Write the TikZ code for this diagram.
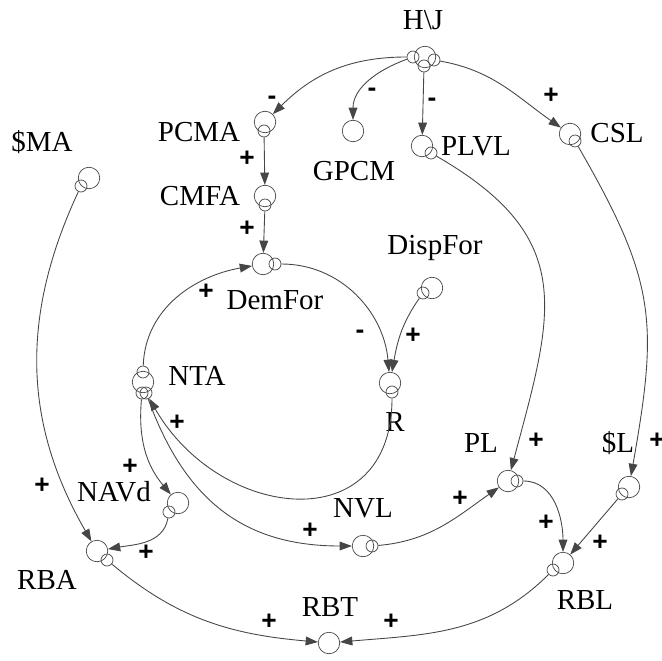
\documentclass[tikz,border=0pt]{standalone}
\usepackage{fontspec}
\setmainfont{Liberation Serif}
\newfontfamily\signfont{Liberation Sans}
\usetikzlibrary{arrows.meta}
\definecolor{linegray}{RGB}{70,70,70}

\begin{document}
\begin{tikzpicture}[x=0.02cm,y=0.02cm,
    var/.style={draw=linegray, circle, line width=0.4pt, minimum size=0.43cm, inner sep=0pt},
    port/.style={draw=linegray, circle, line width=0.4pt, minimum size=0.24cm, inner sep=0pt},
    lbl/.style={font=\fontsize{16.5}{18}\selectfont, inner sep=0pt},
    sgn/.style={font=\signfont\bfseries\fontsize{15}{17}\selectfont, inner sep=0pt},
    link/.style={draw=linegray, line width=0.5pt, -{Triangle[length=7pt,width=5pt]}}]
\useasboundingbox (0,0) rectangle (662,660);

% variables
\node[var] (hj) at (425,603) {};
\node[var] (pcma) at (265,538) {};
\node[var] (gpcm) at (353,529) {};
\node[var] (plvl) at (422,514) {};
\node[var] (csl) at (570,526) {};
\node[var] (sma) at (89,482) {};
\node[var] (cmfa) at (265,464) {};
\node[var] (demfor) at (263,396) {};
\node[var] (dispfor) at (432,372) {};
\node[var] (nta) at (143,278) {};
\node[var] (r) at (390,277) {};
\node[var] (pl) at (508,179) {};
\node[var] (sl) at (629,173) {};
\node[var] (navd) at (178,157) {};
\node[var] (nvl) at (363,114) {};
\node[var] (rba) at (97,109) {};
\node[var] (rbl) at (563,97) {};
\node[var] (rbt) at (329,17) {};

% ports
\node[port] (hjL) at (413,603) {};
\node[port] (hjB) at (424,594) {};
\node[port] (hjR) at (434,600) {};
\node[port] (pcmaP) at (264,529) {};
\node[port] (plvlP) at (431,507) {};
\node[port] (cslP) at (575,519) {};
\node[port] (smaP) at (81,474) {};
\node[port] (cmfaP) at (265,455) {};
\node[port] (demforP) at (275,396) {};
\node[port] (dispforP) at (423,367) {};
\node[port] (ntaT) at (143,288) {};
\node[port] (ntaB) at (142,267) {};
\node[port] (ntaB2) at (146,267) {};
\node[port] (rP) at (392,268) {};
\node[port] (plP) at (517,179) {};
\node[port] (slP) at (622,166) {};
\node[port] (navdP) at (169,148) {};
\node[port] (nvlP) at (372,114) {};
\node[port] (rbaP) at (107,100) {};
\node[port] (rblP) at (553,90) {};

% names
\node[lbl] (hjT) at (423,640) {H\textbackslash J};
\node[lbl] (pcmaT) at (199,528) {PCMA};
\node[lbl] (gpcmT) at (354,489) {GPCM};
\node[lbl] (plvlT) at (476,514) {PLVL};
\node[lbl] (cslT) at (617,527) {CSL};
\node[lbl] (smaT) at (42,518) {\$MA};
\node[lbl] (cmfaT) at (200,464) {CMFA};
\node[lbl] (demforT) at (275,360) {DemFor};
\node[lbl] (dispforT) at (435,412) {DispFor};
\node[lbl] (ntaT2) at (197,284) {NTA};
\node[lbl] (rT) at (395,238) {R};
\node[lbl] (plT) at (481,217) {PL};
\node[lbl] (slT) at (618,217) {\$L};
\node[lbl] (navdT) at (114,168) {NAVd};
\node[lbl] (nvlT) at (363,152) {NVL};
\node[lbl] (rbaT) at (47,80) {RBA};
\node[lbl] (rblT) at (585,60) {RBL};
\node[lbl] (rbtT) at (330,53) {RBT};

% links
\draw[link] (hjL) to[out=180,in=45] (pcma);
\draw[link] (hjL) to[out=200,in=90] (gpcm);
\draw[link] (hjB) -- (plvl);
\draw[link] (hjR) to[out=-10,in=145] (csl);
\draw[link] (pcmaP) -- (cmfa);
\draw[link] (cmfaP) -- (demfor);
\draw[link] (ntaT) to[out=88,in=190] (demfor);
\draw[link] (demforP) to[out=0,in=95] (r);
\draw[link] (dispforP) to[out=235,in=80] (r);
\draw[link] (rP) to[out=-90,in=-60,looseness=1.5] (ntaB2);
\draw[link] (ntaB) to[out=-95,in=130] (navd);
\draw[link] (ntaB2) to[out=-70,in=180,looseness=1.1] (nvl);
\draw[link] (nvlP) to[out=5,in=215] (pl);
\draw[link] (plvlP) to[out=-30,in=75,looseness=1.3] (pl);
\draw[link] (cslP) to[out=-60,in=80,looseness=1.2] (sl);
\draw[link] (plP) to[out=0,in=90] (rbl);
\draw[link] (slP) -- (rbl);
\draw[link] (smaP) to[out=-115,in=120] (rba);
\draw[link] (navdP) to[out=-100,in=10] (rba);
\draw[link] (rbaP) to[out=-40,in=175] (rbt);
\draw[link] (rblP) to[out=-135,in=5] (rbt);

% polarities
\node[sgn] (s1) at (272,560) {-};
\node[sgn] (s2) at (372,568) {-};
\node[sgn] (s3) at (432,558) {-};
\node[sgn] (s4) at (551,564) {+};
\node[sgn] (s5) at (247,501) {+};
\node[sgn] (s6) at (247,431) {+};
\node[sgn] (s7) at (206,368) {+};
\node[sgn] (s8) at (360,326) {-};
\node[sgn] (s9) at (413,324) {+};
\node[sgn] (s10) at (177,237) {+};
\node[sgn] (s11) at (130,193) {+};
\node[sgn] (s12) at (310,129) {+};
\node[sgn] (s13) at (460,161) {+};
\node[sgn] (s14) at (536,219) {+};
\node[sgn] (s15) at (657,219) {+};
\node[sgn] (s16) at (546,137) {+};
\node[sgn] (s17) at (600,117) {+};
\node[sgn] (s18) at (42,174) {+};
\node[sgn] (s19) at (146,107) {+};
\node[sgn] (s20) at (269,38) {+};
\node[sgn] (s21) at (391,38) {+};
\end{tikzpicture}
\end{document}
